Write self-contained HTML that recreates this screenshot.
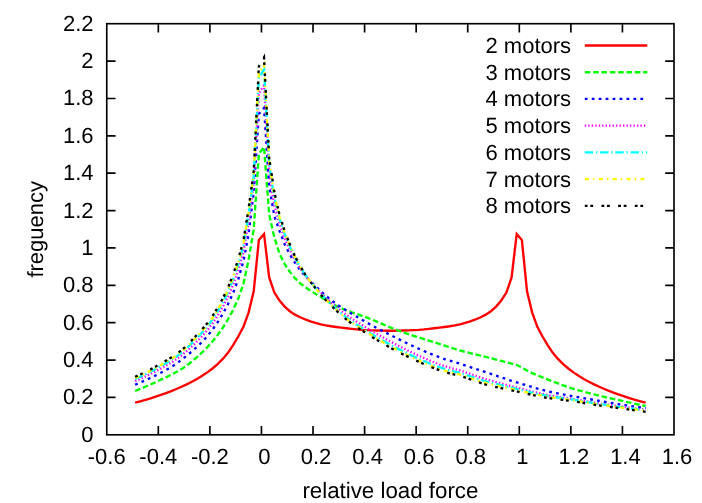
<!DOCTYPE html>
<html><head><meta charset="utf-8"><title>relative load force</title>
<style>html,body{margin:0;padding:0;background:#fff;}body{width:702px;height:503px;overflow:hidden;font-family:"Liberation Sans",sans-serif;}svg{display:block;will-change:transform;}text{text-rendering:geometricPrecision;}</style></head>
<body>
<svg width="702" height="503" viewBox="0 0 702 503">
<rect width="702" height="503" fill="#fff"/>
<g stroke="#000" stroke-width="1.65" fill="none" stroke-linecap="butt">
<path d="M158.32 434.80V426.00M158.32 23.70V32.50"/>
<path d="M209.89 434.80V426.00M209.89 23.70V32.50"/>
<path d="M261.45 434.80V426.00M261.45 23.70V32.50"/>
<path d="M313.02 434.80V426.00M313.02 23.70V32.50"/>
<path d="M364.59 434.80V426.00M364.59 23.70V32.50"/>
<path d="M416.16 434.80V426.00M416.16 23.70V32.50"/>
<path d="M467.73 434.80V426.00M467.73 23.70V32.50"/>
<path d="M519.30 434.80V426.00M519.30 23.70V32.50"/>
<path d="M570.86 434.80V426.00M570.86 23.70V32.50"/>
<path d="M622.43 434.80V426.00M622.43 23.70V32.50"/>
<path d="M106.75 397.43H115.55M674.00 397.43H665.20"/>
<path d="M106.75 360.05H115.55M674.00 360.05H665.20"/>
<path d="M106.75 322.68H115.55M674.00 322.68H665.20"/>
<path d="M106.75 285.31H115.55M674.00 285.31H665.20"/>
<path d="M106.75 247.94H115.55M674.00 247.94H665.20"/>
<path d="M106.75 210.56H115.55M674.00 210.56H665.20"/>
<path d="M106.75 173.19H115.55M674.00 173.19H665.20"/>
<path d="M106.75 135.82H115.55M674.00 135.82H665.20"/>
<path d="M106.75 98.45H115.55M674.00 98.45H665.20"/>
<path d="M106.75 61.07H115.55M674.00 61.07H665.20"/>
<rect x="106.75" y="23.7" width="567.25" height="411.1"/>
</g>
<g font-family="'Liberation Sans', sans-serif" font-size="22px" fill="#000">
<text x="106.75" y="464.0" text-anchor="middle">-0.6</text>
<text x="158.32" y="464.0" text-anchor="middle">-0.4</text>
<text x="209.89" y="464.0" text-anchor="middle">-0.2</text>
<text x="264.45" y="464.0" text-anchor="middle">0</text>
<text x="316.02" y="464.0" text-anchor="middle">0.2</text>
<text x="367.59" y="464.0" text-anchor="middle">0.4</text>
<text x="419.16" y="464.0" text-anchor="middle">0.6</text>
<text x="470.73" y="464.0" text-anchor="middle">0.8</text>
<text x="522.30" y="464.0" text-anchor="middle">1</text>
<text x="573.86" y="464.0" text-anchor="middle">1.2</text>
<text x="625.43" y="464.0" text-anchor="middle">1.4</text>
<text x="677.00" y="464.0" text-anchor="middle">1.6</text>
<text x="93.6" y="441.80" text-anchor="end">0</text>
<text x="93.6" y="404.43" text-anchor="end">0.2</text>
<text x="93.6" y="367.05" text-anchor="end">0.4</text>
<text x="93.6" y="329.68" text-anchor="end">0.6</text>
<text x="93.6" y="292.31" text-anchor="end">0.8</text>
<text x="93.6" y="254.94" text-anchor="end">1</text>
<text x="93.6" y="217.56" text-anchor="end">1.2</text>
<text x="93.6" y="180.19" text-anchor="end">1.4</text>
<text x="93.6" y="142.82" text-anchor="end">1.6</text>
<text x="93.6" y="105.45" text-anchor="end">1.8</text>
<text x="93.6" y="68.07" text-anchor="end">2</text>
<text x="93.6" y="30.70" text-anchor="end">2.2</text>
<text x="390.4" y="497.6" text-anchor="middle" font-size="22.3px">relative load force</text>
<text transform="translate(42.6 229.3) rotate(-90)" text-anchor="middle">freguency</text>
<text x="571.1" y="53.00" text-anchor="end">2 motors</text>
<text x="571.1" y="79.72" text-anchor="end">3 motors</text>
<text x="571.1" y="106.44" text-anchor="end">4 motors</text>
<text x="571.1" y="133.16" text-anchor="end">5 motors</text>
<text x="571.1" y="159.88" text-anchor="end">6 motors</text>
<text x="571.1" y="186.60" text-anchor="end">7 motors</text>
<text x="571.1" y="213.32" text-anchor="end">8 motors</text>
</g>
<g fill="none" stroke-width="2.35" stroke-linejoin="miter" stroke-linecap="butt">
<path stroke="#ff0000" d="M584.8 45.50H647.3"/>
<polyline stroke="#ff0000" points="135.11,402.66 140.27,401.30 145.43,399.86 150.58,398.32 155.74,396.69 160.90,394.96 166.05,393.13 171.21,391.17 176.37,389.04 181.52,386.76 186.68,384.33 191.84,381.75 196.99,378.93 202.15,375.84 207.31,372.40 212.46,368.50 217.62,364.03 222.78,358.93 227.94,352.82 233.09,345.14 238.25,336.50 243.41,326.79 248.56,312.59 253.72,291.29 258.88,239.90 264.03,233.92 269.19,277.46 274.35,292.60 279.50,300.45 284.66,306.61 289.82,311.20 294.97,314.65 300.13,317.29 305.29,319.47 310.44,321.35 315.60,322.98 320.76,324.29 325.91,325.36 331.07,326.25 336.23,326.98 341.39,327.61 346.54,328.23 351.70,328.85 356.86,329.40 362.01,329.83 367.17,330.09 372.33,330.30 377.48,330.49 382.64,330.63 387.80,330.71 392.95,330.71 398.11,330.63 403.27,330.49 408.42,330.30 413.58,330.09 418.74,329.83 423.89,329.40 429.05,328.85 434.21,328.23 439.36,327.61 444.52,326.98 449.68,326.25 454.84,325.36 459.99,324.29 465.15,322.98 470.31,321.35 475.46,319.47 480.62,317.29 485.78,314.65 490.93,311.20 496.09,306.61 501.25,300.45 506.40,292.60 511.56,277.46 516.72,233.92 521.87,239.90 527.03,291.29 532.19,312.59 537.34,326.79 542.50,336.50 547.66,345.14 552.81,352.82 557.97,358.93 563.13,364.03 568.29,368.50 573.44,372.40 578.60,375.84 583.76,378.93 588.91,381.75 594.07,384.33 599.23,386.76 604.38,389.04 609.54,391.17 614.70,393.13 619.85,394.96 625.01,396.69 630.17,398.32 635.32,399.86 640.48,401.30 645.64,402.66"/>
<path stroke="#00ff00" stroke-dasharray="5.556 2.778" d="M584.8 72.22H647.3"/>
<polyline stroke="#00ff00" stroke-dasharray="5.556 2.778" points="135.11,390.98 140.27,388.90 145.43,386.73 150.58,384.46 155.74,382.10 160.90,379.67 166.05,377.24 171.21,374.72 176.37,372.02 181.52,369.05 186.68,365.66 191.84,361.57 196.99,357.10 202.15,352.39 207.31,347.24 212.46,341.49 217.62,335.03 222.78,327.73 227.94,319.48 233.09,309.95 238.25,298.65 243.41,283.81 248.56,260.08 253.72,229.25 258.88,153.94 264.03,147.03 269.19,214.30 274.35,237.57 279.50,253.68 284.66,264.03 289.82,271.77 294.97,278.19 300.13,283.29 305.29,287.28 310.44,290.65 315.60,293.77 320.76,296.95 325.91,300.12 331.07,303.14 336.23,305.92 341.39,308.32 346.54,310.39 351.70,312.26 356.86,314.03 362.01,315.81 367.17,317.70 372.33,319.77 377.48,321.94 382.64,324.16 387.80,326.36 392.95,328.50 398.11,330.52 403.27,332.38 408.42,334.14 413.58,335.83 418.74,337.46 423.89,339.07 429.05,340.66 434.21,342.26 439.36,343.89 444.52,345.58 449.68,347.29 454.84,348.95 459.99,350.48 465.15,351.86 470.31,353.14 475.46,354.39 480.62,355.67 485.78,356.98 490.93,358.28 496.09,359.59 501.25,360.91 506.40,362.25 511.56,363.60 516.72,365.01 521.87,367.53 527.03,370.59 532.19,373.11 537.34,375.36 542.50,377.44 547.66,379.43 552.81,381.42 557.97,383.42 563.13,385.35 568.29,387.16 573.44,388.78 578.60,390.29 583.76,391.70 588.91,393.05 594.07,394.35 599.23,395.64 604.38,396.87 609.54,398.07 614.70,399.24 619.85,400.40 625.01,401.55 630.17,402.69 635.32,403.82 640.48,404.93 645.64,406.02"/>
<path stroke="#0000ff" stroke-dasharray="2.778 4.167" d="M584.8 98.94H647.3"/>
<polyline stroke="#0000ff" stroke-dasharray="2.778 4.167" points="135.11,384.72 140.27,382.58 145.43,380.29 150.58,377.88 155.74,375.36 160.90,372.76 166.05,370.04 171.21,367.08 176.37,363.71 181.52,359.80 186.68,355.71 191.84,351.48 196.99,346.88 202.15,341.84 207.31,336.22 212.46,329.65 217.62,322.28 222.78,313.90 227.94,304.31 233.09,293.07 238.25,279.31 243.41,261.02 248.56,234.48 253.72,191.88 258.88,113.96 264.03,107.98 269.19,186.27 274.35,216.17 279.50,230.87 284.66,244.26 289.82,254.43 294.97,262.84 300.13,270.13 305.29,276.08 310.44,281.32 315.60,286.20 320.76,291.03 325.91,295.81 331.07,300.11 336.23,303.89 341.39,307.38 346.54,310.67 351.70,313.80 356.86,316.82 362.01,319.80 367.17,322.73 372.33,325.59 377.48,328.35 382.64,331.01 387.80,333.64 392.95,336.27 398.11,338.86 403.27,341.42 408.42,343.93 413.58,346.38 418.74,348.75 423.89,351.04 429.05,353.22 434.21,355.30 439.36,357.25 444.52,359.03 449.68,360.63 454.84,362.17 459.99,363.77 465.15,365.43 470.31,367.12 475.46,368.80 480.62,370.49 485.78,372.20 490.93,373.93 496.09,375.67 501.25,377.40 506.40,379.11 511.56,380.78 516.72,382.40 521.87,383.96 527.03,385.52 532.19,387.06 537.34,388.55 542.50,389.96 547.66,391.27 552.81,392.44 557.97,393.46 563.13,394.38 568.29,395.28 573.44,396.22 578.60,397.17 583.76,398.11 588.91,399.05 594.07,399.97 599.23,400.86 604.38,401.75 609.54,402.63 614.70,403.48 619.85,404.31 625.01,405.11 630.17,405.89 635.32,406.64 640.48,407.37 645.64,408.08"/>
<path stroke="#ff00ff" stroke-dasharray="1.389 2.083" d="M584.8 125.66H647.3"/>
<polyline stroke="#ff00ff" stroke-dasharray="1.389 2.083" points="135.11,380.99 140.27,378.78 145.43,376.41 150.58,373.90 155.74,371.26 160.90,368.52 166.05,365.68 171.21,362.63 176.37,359.24 181.52,355.38 186.68,351.13 191.84,346.35 196.99,341.40 202.15,336.10 207.31,330.30 212.46,323.51 217.62,315.73 222.78,306.97 227.94,296.99 233.09,284.79 238.25,270.47 243.41,251.98 248.56,223.06 253.72,182.80 258.88,92.96 264.03,85.64 269.19,173.85 274.35,205.36 279.50,223.72 284.66,238.32 289.82,249.87 294.97,259.88 300.13,268.23 305.29,275.45 310.44,281.57 315.60,287.20 320.76,292.63 325.91,297.86 331.07,302.64 336.23,307.00 341.39,311.12 346.54,314.95 351.70,318.48 356.86,321.83 362.01,325.06 367.17,328.22 372.33,331.32 377.48,334.32 382.64,337.23 387.80,340.08 392.95,342.87 398.11,345.58 403.27,348.20 408.42,350.74 413.58,353.24 418.74,355.67 423.89,358.01 429.05,360.25 434.21,362.37 439.36,364.35 444.52,366.13 449.68,367.70 454.84,369.06 459.99,370.50 465.15,372.14 470.31,373.92 475.46,375.73 480.62,377.49 485.78,379.12 490.93,380.64 496.09,382.09 501.25,383.49 506.40,384.86 511.56,386.20 516.72,387.53 521.87,388.85 527.03,390.19 532.19,391.51 537.34,392.78 542.50,393.96 547.66,395.01 552.81,395.93 557.97,396.74 563.13,397.49 568.29,398.25 573.44,399.08 578.60,399.95 583.76,400.83 588.91,401.71 594.07,402.57 599.23,403.37 604.38,404.12 609.54,404.86 614.70,405.59 619.85,406.31 625.01,407.02 630.17,407.72 635.32,408.41 640.48,409.09 645.64,409.76"/>
<path stroke="#00ffff" stroke-dasharray="8.334 2.778 1.389 2.778" d="M584.8 152.38H647.3"/>
<polyline stroke="#00ffff" stroke-dasharray="8.334 2.778 1.389 2.778" points="135.11,379.00 140.27,376.73 145.43,374.29 150.58,371.69 155.74,368.96 160.90,366.11 166.05,363.16 171.21,360.03 176.37,356.59 181.52,352.73 186.68,348.34 191.84,343.19 196.99,337.98 202.15,332.47 207.31,326.51 212.46,319.52 217.62,311.42 222.78,302.37 227.94,292.06 233.09,279.15 238.25,264.38 243.41,245.68 248.56,214.99 253.72,176.31 258.88,77.78 264.03,69.48 269.19,164.96 274.35,197.69 279.50,218.69 284.66,234.19 289.82,246.74 294.97,257.87 300.13,266.94 305.29,275.03 310.44,281.73 315.60,287.85 320.76,293.67 325.91,299.17 331.07,304.25 336.23,308.96 341.39,313.44 346.54,317.55 351.70,321.26 356.86,324.74 362.01,328.06 367.17,331.28 372.33,334.44 377.48,337.50 382.64,340.48 387.80,343.37 392.95,346.16 398.11,348.85 403.27,351.42 408.42,353.92 413.58,356.37 418.74,358.75 423.89,361.05 429.05,363.24 434.21,365.30 439.36,367.22 444.52,368.94 449.68,370.42 454.84,371.65 459.99,372.94 465.15,374.52 470.31,376.26 475.46,378.04 480.62,379.75 485.78,381.30 490.93,382.68 496.09,383.98 501.25,385.23 506.40,386.44 511.56,387.64 516.72,388.84 521.87,390.07 527.03,391.33 532.19,392.59 537.34,393.79 542.50,394.90 547.66,395.88 552.81,396.72 557.97,397.47 563.13,398.17 568.29,398.89 573.44,399.68 578.60,400.52 583.76,401.38 588.91,402.24 594.07,403.08 599.23,403.87 604.38,404.64 609.54,405.39 614.70,406.12 619.85,406.85 625.01,407.58 630.17,408.29 635.32,409.00 640.48,409.70 645.64,410.40"/>
<path stroke="#ffff00" stroke-dasharray="4.167 4.167 1.389 4.167" d="M584.8 179.10H647.3"/>
<polyline stroke="#ffff00" stroke-dasharray="4.167 4.167 1.389 4.167" points="135.11,378.05 140.27,375.76 145.43,373.31 150.58,370.69 155.74,367.93 160.90,365.05 166.05,362.08 171.21,358.93 176.37,355.48 181.52,351.64 186.68,347.23 191.84,341.94 196.99,336.65 202.15,331.09 207.31,325.09 212.46,318.06 217.62,309.87 222.78,300.74 227.94,290.34 233.09,277.21 238.25,262.32 243.41,243.59 248.56,212.36 253.72,174.23 258.88,73.00 264.03,64.39 269.19,162.11 274.35,195.19 279.50,217.02 284.66,232.80 289.82,245.66 294.97,257.16 300.13,266.49 305.29,274.87 310.44,281.79 315.60,288.10 320.76,294.07 325.91,299.68 331.07,304.88 336.23,309.73 341.39,314.37 346.54,318.61 351.70,322.43 356.86,326.00 362.01,329.38 367.17,332.66 372.33,335.87 377.48,339.00 382.64,342.04 387.80,344.99 392.95,347.83 398.11,350.55 403.27,353.14 408.42,355.64 413.58,358.10 418.74,360.50 423.89,362.82 429.05,365.02 434.21,367.10 439.36,369.03 444.52,370.74 449.68,372.21 454.84,373.38 459.99,374.63 465.15,376.20 470.31,377.95 475.46,379.75 480.62,381.48 485.78,383.00 490.93,384.32 496.09,385.54 501.25,386.71 506.40,387.83 511.56,388.94 516.72,390.07 521.87,391.24 527.03,392.45 532.19,393.65 537.34,394.80 542.50,395.86 547.66,396.77 552.81,397.56 557.97,398.25 563.13,398.92 568.29,399.61 573.44,400.37 578.60,401.19 583.76,402.04 588.91,402.88 594.07,403.71 599.23,404.48 604.38,405.23 609.54,405.95 614.70,406.66 619.85,407.37 625.01,408.09 630.17,408.79 635.32,409.50 640.48,410.19 645.64,410.88"/>
<path stroke="#000000" stroke-dasharray="2.778 2.778 2.778 8.334" d="M584.8 205.82H647.3"/>
<polyline stroke="#000000" stroke-dasharray="2.778 2.778 2.778 8.334" points="135.11,376.78 140.27,374.47 145.43,371.99 150.58,369.35 155.74,366.55 160.90,363.63 166.05,360.62 171.21,357.44 176.37,353.99 181.52,350.17 186.68,345.71 191.84,340.25 196.99,334.84 202.15,329.20 207.31,323.15 212.46,316.05 217.62,307.73 222.78,298.48 227.94,287.96 233.09,274.53 238.25,259.47 243.41,240.69 248.56,208.70 253.72,171.32 258.88,66.30 264.03,57.34 269.19,158.24 274.35,191.88 279.50,214.86 284.66,231.03 289.82,244.33 294.97,256.31 300.13,265.95 305.29,274.70 310.44,281.86 315.60,288.37 320.76,294.49 325.91,300.22 331.07,305.53 336.23,310.52 341.39,315.31 346.54,319.66 351.70,323.56 356.86,327.17 362.01,330.59 367.17,333.90 372.33,337.13 377.48,340.29 382.64,343.36 387.80,346.32 392.95,349.16 398.11,351.88 403.27,354.45 408.42,356.93 413.58,359.38 418.74,361.76 423.89,364.05 429.05,366.24 434.21,368.30 439.36,370.20 444.52,371.93 449.68,373.44 454.84,374.63 459.99,375.89 465.15,377.50 470.31,379.32 475.46,381.19 480.62,382.98 485.78,384.53 490.93,385.85 496.09,387.05 501.25,388.18 506.40,389.26 511.56,390.32 516.72,391.41 521.87,392.55 527.03,393.74 532.19,394.92 537.34,396.04 542.50,397.06 547.66,397.92 552.81,398.66 557.97,399.32 563.13,399.95 568.29,400.62 573.44,401.36 578.60,402.18 583.76,403.03 588.91,403.88 594.07,404.70 599.23,405.46 604.38,406.19 609.54,406.90 614.70,407.59 619.85,408.29 625.01,408.99 630.17,409.70 635.32,410.41 640.48,411.11 645.64,411.82"/>
</g>
</svg>
</body></html>
